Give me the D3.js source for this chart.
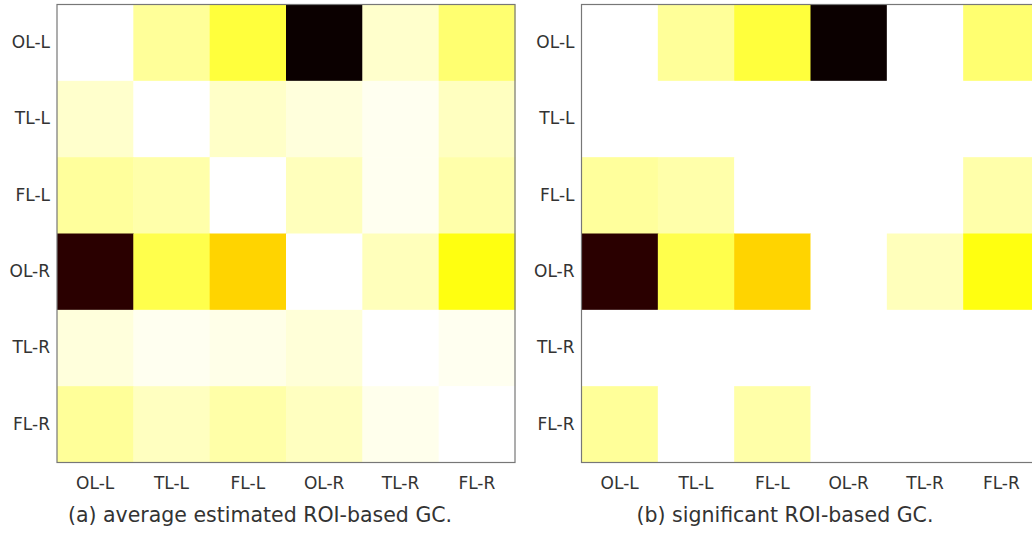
<!DOCTYPE html>
<html>
<head>
<meta charset="utf-8">
<script src="https://cdn.jsdelivr.net/npm/d3@7"></script>
<style>
  body { margin: 0; background: #fff; overflow: hidden; }
  text { font-family: "DejaVu Sans", sans-serif; fill: #333; }
</style>
</head>
<body>
<script>
let width = 1032, height = 533;

// regions of interest (rows = source, cols = target)
let regions = ['OL-L', 'TL-L', 'FL-L', 'OL-R', 'TL-R', 'FL-R'];

// average estimated GC (normalised to the max)
let avgGC = [
  [0.000, 0.102, 0.194, 1.000, 0.051, 0.142],
  [0.051, 0.000, 0.055, 0.035, 0.015, 0.063],
  [0.099, 0.085, 0.000, 0.067, 0.015, 0.085],
  [0.953, 0.178, 0.318, 0.000, 0.068, 0.238],
  [0.035, 0.015, 0.023, 0.039, 0.000, 0.015],
  [0.102, 0.063, 0.087, 0.063, 0.019, 0.000]
];

// significant GC only (others set to 0)
let sigGC = [
  [0.000, 0.102, 0.194, 1.000, 0.000, 0.142],
  [0.000, 0.000, 0.000, 0.000, 0.000, 0.000],
  [0.099, 0.085, 0.000, 0.000, 0.000, 0.085],
  [0.953, 0.178, 0.318, 0.000, 0.068, 0.238],
  [0.000, 0.000, 0.000, 0.000, 0.000, 0.000],
  [0.102, 0.000, 0.087, 0.000, 0.000, 0.000]
];

let captions = ['(a) average estimated ROI-based GC.', '(b) significant ROI-based GC.'];

// matplotlib "hot", reversed
function hot(t){
  let r = t < 0.365079 ? 0.0416 + (1 - 0.0416) * t / 0.365079 : 1;
  let g = t < 0.365079 ? 0 : t < 0.746032 ? (t - 0.365079) / (0.746032 - 0.365079) : 1;
  let b = t < 0.746032 ? 0 : (t - 0.746032) / (1 - 0.746032);
  return d3.rgb(r * 255, g * 255, b * 255).toString();
}
let color = d3.scaleSequential(t => hot(1 - t)).domain([0, 1]);

let svg = d3.select('body').append('svg')
  .attr('width', width).attr('height', height);

let size = 458, topY = 4.5;
let panels = [
  {data: avgGC, x0: 57, cap: captions[0], capX: 260},
  {data: sigGC, x0: 581.5, cap: captions[1], capX: 785}
];

panels.forEach(p => {
  let g = svg.append('g');
  let x = d3.scaleBand().domain(regions).range([p.x0, p.x0 + size]);
  let y = d3.scaleBand().domain(regions).range([topY, topY + size]);

  let cells = [];
  p.data.forEach((row, i) => row.forEach((v, j) => cells.push({src: regions[i], tgt: regions[j], v: v})));

  g.selectAll('rect.cell').data(cells).enter().append('rect')
    .attr('class', 'cell')
    .attr('x', d => x(d.tgt))
    .attr('y', d => y(d.src))
    .attr('width', x.bandwidth() + 0.5)
    .attr('height', y.bandwidth() + 0.5)
    .attr('fill', d => color(d.v));

  g.append('rect')
    .attr('x', p.x0).attr('y', topY)
    .attr('width', size).attr('height', size)
    .attr('fill', 'none').attr('stroke', '#777').attr('stroke-width', 1.2);

  let xAxis = g.append('g')
    .attr('transform', `translate(0,${topY + size})`)
    .call(d3.axisBottom(x).tickSize(0).tickPadding(14));
  let yAxis = g.append('g')
    .attr('transform', `translate(${p.x0},0)`)
    .call(d3.axisLeft(y).tickSize(0).tickPadding(7));
  [xAxis, yAxis].forEach(a => {
    a.select('.domain').remove();
    a.selectAll('text').attr('font-size', 17).attr('font-family', '"DejaVu Sans", sans-serif').attr('fill', '#333');
  });

  g.append('text')
    .attr('x', p.capX).attr('y', 522)
    .attr('text-anchor', 'middle')
    .attr('font-size', 20.5)
    .text(p.cap);
});
</script>
</body>
</html>
